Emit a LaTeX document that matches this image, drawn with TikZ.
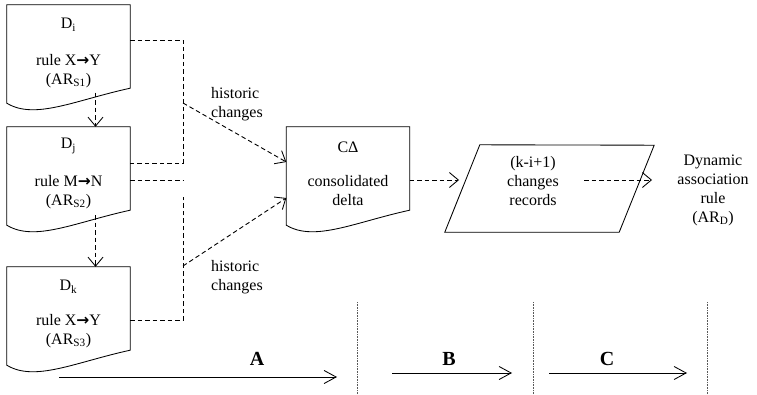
\documentclass[tikz,border=0pt]{standalone}
\usepackage{fontspec}
\setmainfont{Liberation Serif}
\newfontfamily\arrfont{DejaVu Sans}
\usetikzlibrary{arrows.meta,calc}
\newcommand\myarr{{\arrfont\bfseries\fontsize{15.5}{19}\selectfont →}}
\newcommand\docoutline[1]{\draw[ln] (#1.north west) -- (#1.north east) -- (#1.south east) .. controls ($(#1.south east)+(-55,12)$) and ($(#1.south west)+(28,32)$) .. ($(#1.south west)+(0,15)$) -- cycle;}
\begin{document}
\begin{tikzpicture}[x=1pt,y=-1pt,
  every node/.style={font=\fontsize{16}{19}\selectfont, inner sep=0pt},
  docbox/.style={rectangle, minimum width=123pt, minimum height=83pt, draw=none},
  parabox/.style={rectangle, minimum width=174pt, minimum height=87pt, draw=none},
  txt/.style={align=center},
  ln/.style={line width=0.85pt},
  dsh/.style={line width=0.9pt, dash pattern=on 4.5pt off 3pt},
  tip/.style={-{Straight Barb[length=9pt,width=15pt,line width=0.85pt]}},
  bigtip/.style={-{Straight Barb[length=12pt,width=13pt,line width=0.85pt]}},
  sep/.style={line width=0.7pt, black!65, dash pattern=on 0.8pt off 0.8pt},
  phase/.style={font=\bfseries\fontsize{20}{24}\selectfont}
]
\useasboundingbox (0,0) rectangle (757,395);

% document shapes
\node[docbox] (Di) at (68.5,46.5) {};
\node[docbox] (Dj) at (68.5,168.5) {};
\node[docbox] (Dk) at (68.5,308.5) {};
\node[docbox] (CD) at (348,168.5) {};
\docoutline{Di}
\docoutline{Dj}
\docoutline{Dk}
\docoutline{CD}

\node (Di-l) at (68.5,25) {D\textsubscript{i}};
\node[txt] (Di-r) at (68.5,71) {rule X\myarr Y\\(AR\textsubscript{S1})};
\node (Dj-l) at (68.5,146) {D\textsubscript{j}};
\node[txt] (Dj-r) at (68.5,192) {rule M\myarr N\\(AR\textsubscript{S2})};
\node (Dk-l) at (68.5,287) {D\textsubscript{k}};
\node[txt] (Dk-r) at (68.5,331) {rule X\myarr Y\\(AR\textsubscript{S3})};
\node (CD-l) at (348,147) {CΔ};
\node[txt] (CD-r) at (348,191) {consolidated\\delta};

% parallelogram
\node[parabox] (P) at (532,188.5) {};
\draw[ln] (P.south west) -- (P.south east) -- ++(35,-87) -- ($(P.north west)+(35,0)$) -- cycle;
\node[txt] (Ptxt) at (533,181) {(k-i+1)\\changes\\records};

% result
\node[txt] (R) at (713,190) {Dynamic\\association\\rule\\(AR\textsubscript{D})};

% historic changes labels
\node[align=left, anchor=west] (H1) at (211,104) {historic\\changes};
\node[align=left, anchor=west] (H2) at (211,277) {historic\\changes};

% dashed connectors
\draw[dsh,tip] ($(Di.south)+(27,4.5)$) -- ([xshift=27pt]Dj.north);
\draw[dsh,tip] ($(Dj.south)+(27,5)$) -- ([xshift=27pt]Dk.north);

\coordinate (h1) at (183,103);
\coordinate (h2) at (183,266);
\draw[dsh] ([yshift=6.5pt]Di.east) -- ++(53,0) |- ([yshift=5.5pt]Dj.east);
\draw[dsh] ([yshift=-11.5pt]Dj.east) -- ++(53,0);
\draw[dsh] ([yshift=-11.5pt]Dk.east) -- ++(53,0) -- ++(0,-123);
\draw[dsh,tip] (h1) -- ([yshift=6.5pt]CD.west);
\draw[dsh,tip] (h2) -- ([yshift=-29.5pt]CD.west);

\coordinate (p-in) at (459,180);
\coordinate (p-out) at (584,180);
\coordinate (r-in) at (652,180);
\draw[dsh,tip] ([yshift=-11.5pt]CD.east) -- (p-in);
\draw[dsh,tip] (p-out) -- (r-in);

% phase separators
\coordinate (s1t) at (357,302); \coordinate (s1b) at (357,395);
\coordinate (s2t) at (533,302); \coordinate (s2b) at (533,395);
\coordinate (s3t) at (707,302); \coordinate (s3b) at (707,395);
\draw[sep] (s1t) -- (s1b);
\draw[sep] (s2t) -- (s2b);
\draw[sep] (s3t) -- (s3b);

% phase arrows
\coordinate (a1) at (59,377); \coordinate (a2) at (337,377);
\coordinate (b1) at (392,373); \coordinate (b2) at (512,373);
\coordinate (c1) at (549,373); \coordinate (c2) at (687,373);
\draw[ln,bigtip] (a1) -- (a2);
\draw[ln,bigtip] (b1) -- (b2);
\draw[ln,bigtip] (c1) -- (c2);
\node[phase] (A) at (257,359) {A};
\node[phase] (B) at (449,359) {B};
\node[phase] (C) at (607,359) {C};
\end{tikzpicture}
\end{document}
